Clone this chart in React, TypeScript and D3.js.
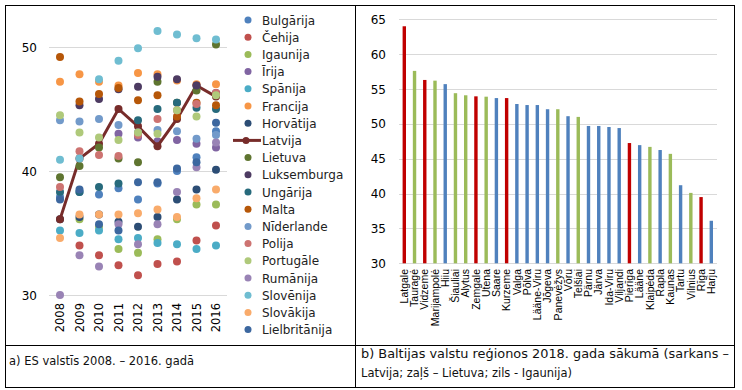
import React, { useRef, useEffect } from "react";
import { select, scaleLinear, scalePoint, line } from "d3";

// left chart: share per country, 2008-2016
const years = ["2008", "2009", "2010", "2011", "2012", "2013", "2014", "2015", "2016"];
const countryNames = ["Bulgārija", "Čehija", "Igaunija", "Īrija", "Spānija", "Francija", "Horvātija", "Latvija", "Lietuva", "Luksemburga", "Ungārija", "Malta", "Nīderlande", "Polija", "Portugāle", "Rumānija", "Slovēnija", "Slovākija", "Lielbritānija"];
const countryColors = ["#4F81BD", "#C0504D", "#9BBB59", "#8064A2", "#4BACC6", "#F79646", "#2C4D75", "#772C2A", "#5F7530", "#4D3B62", "#276A7C", "#B65708", "#729ACA", "#CD7371", "#AFC97A", "#9983B5", "#6FBDD1", "#F9AB6B", "#3C679F"];

const bulgarija = [37.9, 38.3, 38.1, 38.6, 37.7, 39.0, 40.0, 41.1, 43.2];
const cehija = [null, 34.0, 33.2, 32.4, 31.6, 32.5, 32.7, 34.4, 35.6];
const igaunija = [null, 36.1, 35.5, 33.7, 33.4, 34.5, 36.1, 37.3, 37.3];
const irija = [null, null, null, 43.0, 42.7, 42.4, 42.5, 42.2, 41.9];
const spanija = [35.2, 35.0, 35.2, 34.5, 34.6, 34.2, 34.1, 33.7, 34.0];
const francija = [47.2, 47.8, 47.2, 46.9, 47.9, 47.8, 47.3, 47.0, 47.0];
const horvatija = [36.1, 36.3, 36.5, 35.9, 35.5, 36.3, 37.7, 38.5, 40.1];
const latvija = [36.1, 41.0, 42.2, 45.0, 43.6, 42.0, 44.2, 46.9, 46.0];
const lietuva = [39.5, 40.4, 41.9, 41.0, 40.7, 47.2, 45.5, 46.5, 50.2];
const luksemburga = [null, 45.3, 45.8, 46.6, 46.8, 47.6, 47.4, 46.9, 46.3];
const ungarija = [38.3, 38.3, 38.7, 39.0, 44.1, 45.0, 45.5, 45.1, 45.0];
const malta = [49.2, 45.6, 46.2, 46.7, 45.7, 46.1, 44.4, 45.5, 45.3];
const niderlande = [44.1, 44.0, 44.2, 43.7, 43.1, 43.3, 43.2, 42.6, 42.9];
const polija = [38.7, 41.6, 41.3, 41.2, 42.9, 44.2, 44.9, 45.4, 46.3];
const portugale = [44.5, 43.1, 42.7, 42.5, 43.1, 43.0, 44.9, 44.4, 46.1];
const rumanija = [30.0, 33.2, 32.3, 35.7, 34.1, 35.7, 38.3, 40.3, 42.3];
const slovenija = [40.9, 41.0, 47.4, 48.9, 49.9, 51.3, 51.0, 50.7, 50.6];
const slovakija = [34.6, 36.5, 36.5, 36.5, 36.6, 36.9, 36.3, 37.8, 38.5];
const lielbritanija = [37.7, 38.5, 35.7, 35.2, 39.1, 39.1, 40.2, 40.7, 43.9];
const leftTicks = [30, 40, 50];

// right chart: Baltic regions, start of 2018
const regions = ["Latgale", "Tauragė", "Vidzeme", "Marijampolė", "Hiiu", "Šiauliai", "Alytus", "Zemgale", "Utena", "Saare", "Kurzeme", "Valga", "Põlva", "Lääne-Viru", "Jõgeva", "Panevėžys", "Võru", "Telšiai", "Pärnu", "Järva", "Ida-Viru", "Viljandi", "Pierīga", "Lääne", "Klaipėda", "Rapla", "Kaunas", "Tartu", "Vilnius", "Rīga", "Harju"];
const regionValues = [64.0, 57.6, 56.3, 56.2, 55.7, 54.4, 54.1, 53.95, 53.9, 53.7, 53.7, 52.85, 52.7, 52.7, 52.1, 52.1, 51.1, 51.0, 49.7, 49.7, 49.55, 49.4, 47.25, 46.95, 46.7, 46.25, 45.7, 41.2, 40.1, 39.5, 36.1];
const regionCountry = ["LV", "LT", "LV", "LT", "EE", "LT", "LT", "LV", "LT", "EE", "LV", "EE", "EE", "EE", "EE", "LT", "EE", "LT", "EE", "EE", "EE", "EE", "LV", "EE", "LT", "EE", "LT", "EE", "LT", "LV", "EE"];
const rightTicks = [30, 35, 40, 45, 50, 55, 60, 65];
const barColors = { LV: "#C00000", LT: "#9BBB59", EE: "#4F81BD" };

const seriesValues = [bulgarija, cehija, igaunija, irija, spanija, francija, horvatija, latvija, lietuva, luksemburga, ungarija, malta, niderlande, polija, portugale, rumanija, slovenija, slovakija, lielbritanija];

const FONT = "DejaVu Sans, Verdana, sans-serif";

function App() {
    const svgRef = useRef(null);

    useEffect(() => {
        const svg = select(svgRef.current);
        svg.selectAll("*").remove();

        // table frame
        const frame = svg.append("g").attr("stroke", "#000").attr("fill", "none").attr("stroke-width", 1);
        frame.append("rect").attr("x", 5.5).attr("y", 5.5).attr("width", 729).attr("height", 382);
        frame.append("line").attr("x1", 355.5).attr("x2", 355.5).attr("y1", 5.5).attr("y2", 387.5);
        frame.append("line").attr("x1", 5.5).attr("x2", 734.5).attr("y1", 345.5).attr("y2", 345.5);

        // ---- left chart ----
        const x = scalePoint().domain(years).range([60, 216]);
        const y = scaleLinear().domain([30, 50]).range([295, 47]);
        const left = svg.append("g");

        left.selectAll(".grid").data(leftTicks).join("line")
            .attr("x1", 49).attr("x2", 227)
            .attr("y1", d => y(d) + 0.5).attr("y2", d => y(d) + 0.5)
            .attr("stroke", "#D9D9D9");
        left.selectAll(".ytick").data(leftTicks).join("text")
            .attr("x", 37).attr("y", d => y(d) + 4.5)
            .attr("text-anchor", "end").attr("font-size", 12).attr("font-family", FONT)
            .text(d => d);
        left.selectAll(".xtick").data(years).join("text")
            .attr("transform", d => `translate(${x(d) + 4},303) rotate(-90)`)
            .attr("text-anchor", "end").attr("font-size", 11.5).attr("font-family", FONT)
            .text(d => d);

        seriesValues.forEach((vals, i) => {
            const pts = vals.map((v, j) => ({ v, yr: years[j] })).filter(p => p.v != null);
            if (countryNames[i] === "Latvija") {
                const ln = line().x(p => x(p.yr)).y(p => y(p.v));
                left.append("path").attr("d", ln(pts)).attr("fill", "none")
                    .attr("stroke", countryColors[i]).attr("stroke-width", 3);
            }
            left.append("g").selectAll("circle").data(pts).join("circle")
                .attr("cx", p => x(p.yr)).attr("cy", p => y(p.v)).attr("r", 4)
                .attr("fill", countryColors[i]);
        });

        // legend
        const leg = svg.append("g");
        countryNames.forEach((name, i) => {
            const ly = 20 + i * 17.2;
            if (name === "Latvija") {
                leg.append("line").attr("x1", 233).attr("x2", 261).attr("y1", ly).attr("y2", ly)
                    .attr("stroke", countryColors[i]).attr("stroke-width", 3);
            }
            leg.append("circle").attr("cx", name === "Latvija" ? 246 : 248).attr("cy", ly).attr("r", 3.5).attr("fill", countryColors[i]);
            leg.append("text").attr("x", 262).attr("y", ly + 4.5)
                .attr("font-size", 12).attr("font-family", FONT).attr("fill", "#222").text(name);
        });

        // ---- right chart ----
        const xb = scalePoint().domain(regions).range([404.3, 711.3]);
        const yb = scaleLinear().domain([30, 65]).range([263.3, 19.3]);
        const right = svg.append("g");

        right.selectAll(".grid").data(rightTicks).join("line")
            .attr("x1", 399).attr("x2", 717)
            .attr("y1", d => Math.round(yb(d)) + 0.5).attr("y2", d => Math.round(yb(d)) + 0.5)
            .attr("stroke", "#D9D9D9");
        right.selectAll(".ytick").data(rightTicks).join("text")
            .attr("x", 386).attr("y", d => yb(d) + 4.5)
            .attr("text-anchor", "end").attr("font-size", 12).attr("font-family", FONT)
            .text(d => d);
        right.selectAll("rect").data(regions).join("rect")
            .attr("x", d => xb(d) - 1.7).attr("width", 3.4)
            .attr("y", (d, i) => yb(regionValues[i]))
            .attr("height", (d, i) => yb(30) - yb(regionValues[i]))
            .attr("fill", (d, i) => barColors[regionCountry[i]]);
        right.selectAll(".xtick").data(regions).join("text")
            .attr("transform", d => `translate(${xb(d) + 3.7},269) rotate(-90)`)
            .attr("text-anchor", "end").attr("font-size", 10.5).attr("font-family", "Liberation Sans, Arial, sans-serif")
            .text(d => d);

        // captions
        const cap = svg.append("g").attr("font-family", FONT).attr("font-size", 11.5).attr("fill", "#111");
        cap.append("text").attr("x", 9).attr("y", 365).text("a) ES valstīs 2008. – 2016. gadā");
        cap.append("text").attr("x", 361).attr("y", 358)
            .attr("textLength", 368).attr("lengthAdjust", "spacingAndGlyphs")
            .text("b) Baltijas valstu reģionos 2018. gada sākumā (sarkans –");
        cap.append("text").attr("x", 361).attr("y", 377).text("Latvija; zaļš – Lietuva; zils - Igaunija)");
    }, []);

    return (
        <svg ref={svgRef} width={742} height={390}
            style={{ position: "absolute", left: 0, top: 0, background: "#fff" }} />
    );
}

export default App;
